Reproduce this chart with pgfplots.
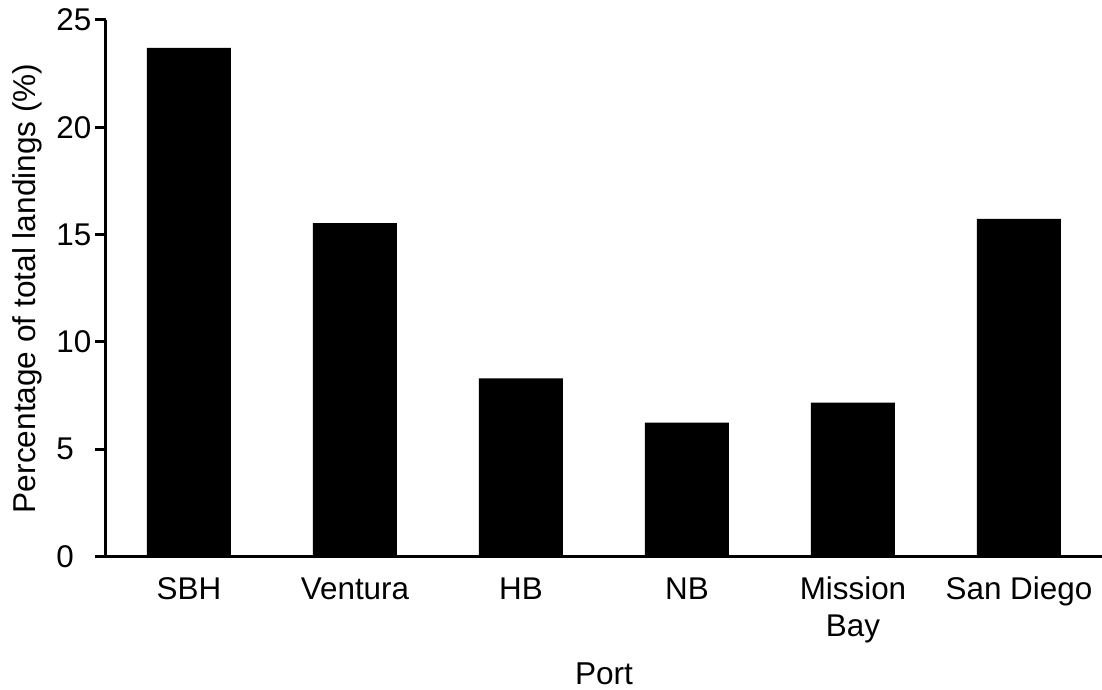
\documentclass[border=0pt]{standalone}
\usepackage{pgfplots}
\pgfplotsset{compat=1.18}
\usepackage{fontspec}
\setmainfont{Liberation Sans}
\begin{document}
\begin{tikzpicture}
\useasboundingbox (-53pt,-66.75pt) rectangle (498pt,278.25pt);
\begin{axis}[
  scale only axis,
  width=498pt, height=268.25pt,
  xmin=-0.5, xmax=5.5,
  ymin=0, ymax=25,
  axis x line=bottom, axis y line=left,
  axis line style={-, line width=1.5pt, black},
  every tick/.style={black, line width=1.5pt},
  tick align=outside,
  ytick={0,5,10,15,20,25},
  xtick={0,1,2,3,4,5},
  xticklabels={\strut SBH,\strut Ventura,\strut HB,\strut NB,{\strut Mission\\Bay},\strut San Diego},
  x tick style={draw=none},
  major tick length=5.5pt,
  /pgf/number format/assume math mode=true,
  ticklabel style={font=\fontsize{15.7}{18.5}\selectfont},
  xticklabel style={align=center, anchor=north, inner sep=0pt, yshift=-2.6pt},
  yticklabel style={anchor=west, inner sep=0pt, xshift=-19.5pt},
  label style={font=\fontsize{15.8}{18.5}\selectfont},
  xlabel={Port},
  ylabel={Percentage of total landings (\%)},
  xlabel style={at={(axis description cs:0.5,-0.2395)}, anchor=base},
  ylabel style={at={(axis description cs:-0.0703,0.5)}, anchor=base, rotate=0},
  ybar, bar width=42pt,
  clip=false,
]
\addplot[fill=black, draw=none] coordinates {
  (0,23.70) (1,15.53) (2,8.30) (3,6.24) (4,7.17) (5,15.73)
};
\end{axis}
\end{tikzpicture}
\end{document}
